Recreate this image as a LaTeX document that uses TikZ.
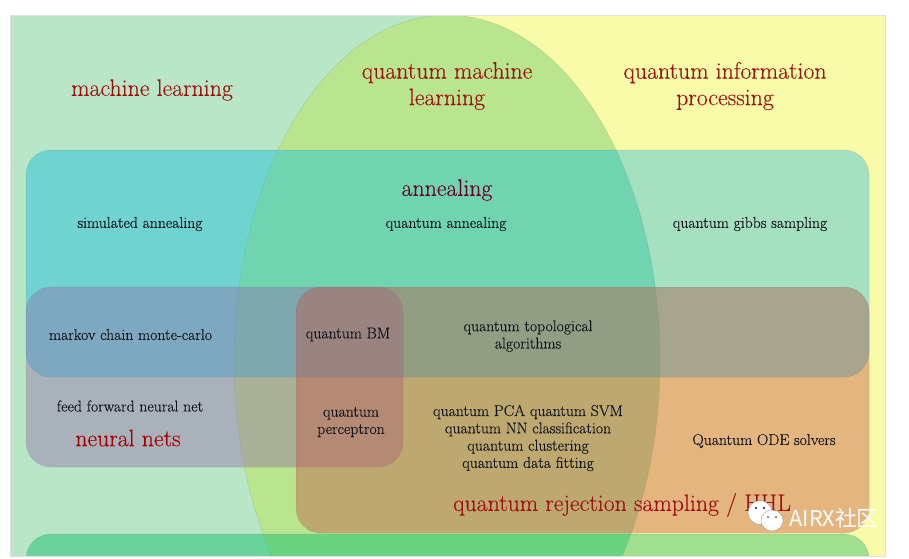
\documentclass[tikz,border=0pt]{standalone}
\usepackage{fontspec}
\setmainfont[FakeBold=0.12]{Latin Modern Roman}
\newfontfamily\cjkmark{Noto Sans CJK SC}
\usetikzlibrary{shapes.geometric}
\definecolor{bgGreen}{HTML}{B8E6C6}
\definecolor{bgYellow}{HTML}{F9FBA9}
\definecolor{qmlGreen}{HTML}{B9E58F}
\definecolor{annealC}{RGB}{24,192,220}
\definecolor{annealR}{RGB}{64,193,220}
\definecolor{neuralC}{RGB}{147,102,170}
\definecolor{rejectC}{RGB}{197,78,65}
\definecolor{bottomC}{RGB}{30,194,115}
\definecolor{bottomR}{RGB}{71,197,117}
\definecolor{headRed}{HTML}{A01010}
\definecolor{bodyInk}{HTML}{101418}
\tikzset{
  x=1pt,y=-1pt,
  field/.style={anchor=north west,inner sep=0pt,outer sep=0pt,rectangle},
  region/.style={anchor=north west,inner sep=0pt,outer sep=0pt,rectangle,rounded corners=25pt,
     draw=black!60,draw opacity=.2,line width=.5pt,fill opacity=#1},
  annealbox/.style={region=.45,minimum width=843pt,minimum height=227pt},
  bottombox/.style={region=.5,minimum width=843pt,minimum height=80pt},
  head/.style={text=headRed,align=center,inner sep=0pt,font=\fontsize{23.8}{26.5}\selectfont},
  body/.style={text=bodyInk,align=center,inner sep=0pt,font=\fontsize{15.7}{17.3}\selectfont},
}
\begin{document}
\begin{tikzpicture}
\useasboundingbox (0,0) rectangle (909,558);
\fill[white] (0,0) rectangle (909,558);
\begin{scope}
\clip (10,15) rectangle (885,556);
\node[field,fill=bgGreen,minimum width=437pt,minimum height=541pt] (ml) at (10,15) {};
\node[field,fill=bgYellow,minimum width=438pt,minimum height=541pt] (qip) at (447,15) {};
% parts of the wide regions that lie over the yellow field
\begin{scope}
\clip (447,100) -- (885,100) -- (885,400) -- (869,400) [rounded corners=25pt] -- (869,287) [sharp corners] -- (447,287) -- cycle;
\node[annealbox,fill=annealR] (annealA) at (26,150) {};
\end{scope}
\begin{scope}
\clip (447,400) -- (447,287) [rounded corners=25pt] -- (869,287) [sharp corners] -- (869,400) -- cycle;
\node[annealbox,fill=annealC] (annealB) at (26,150) {};
\end{scope}
\begin{scope}
\clip (447,500) rectangle (885,556);
\node[bottombox,fill=bottomR] (bottomB) at (26,534) {};
\end{scope}
\node[ellipse,inner sep=0pt,outer sep=0pt,minimum width=426pt,minimum height=690pt,fill=qmlGreen,
      draw=black!60,draw opacity=.2,line width=.5pt] (qml) at (447,360) {};
% parts over the green field and the ellipse
\begin{scope}
\clip (447,705) arc [start angle=90,end angle=-90,x radius=213,y radius=345] -- (10,15) -- (10,705) -- cycle;
\node[annealbox,fill=annealC] (annealC) at (26,150) {};
\node[bottombox,fill=bottomC] (bottomA) at (26,534) {};
\end{scope}
\node[region=.4,fill=neuralC,minimum width=377pt,minimum height=180pt] (neural) at (26,287) {};
\node[region=.4,fill=rejectC,minimum width=573pt,minimum height=246pt] (reject) at (296,287) {};
\end{scope}
\node[field,draw=black!12,line width=.5pt,minimum width=875pt,minimum height=541pt] (frame) at (10,15) {};
\node[head] (t1) at (152,90) {machine learning};
\node[head] (t2) at (447,86) {quantum machine\\learning};
\node[head] (t3) at (725,86) {quantum information\\processing};
\node[head,text=red!50!black!85!blue] (t4) at (447,190) {annealing};
\node[body] (t5) at (140,224) {simulated annealing};
\node[body] (t6) at (446,224) {quantum annealing};
\node[body] (t7) at (750,224) {quantum gibbs sampling};
\node[body] (t8) at (130.5,334.5) {markov chain monte-carlo};
\node[body] (t9) at (348,334.5) {quantum BM};
\node[body] (t10) at (528,336) {quantum topological\\algorithms};
\node[body] (t11) at (130,406) {feed forward neural net};
\node[head,text=red!65!black] (t12) at (128,438) {neural nets};
\node[body] (t13) at (351,422) {quantum\\perceptron};
\node[body] (t14) at (528,438) {quantum PCA quantum SVM\\quantum NN classification\\quantum clustering\\quantum data fitting};
\node[body] (t15) at (764,441) {Quantum ODE solvers};
\node[head] (t16) at (622,505) {quantum rejection sampling / HHL};
% watermark
\fill[white,draw=black!45,line width=.3pt] (760,512.5) ellipse [x radius=12,y radius=12];
\fill[white,draw=black!45,line width=.3pt] (772,520.5) ellipse [x radius=11,y radius=10.5];
\fill[black!70] (756,508) circle (1.3) (764,508) circle (1.3) (768,517) circle (1) (776,517) circle (1);
\node[text=white,inner sep=0pt,font=\cjkmark\fontsize{21.7}{24}\selectfont] (mark) at (834,518) {AIRX社区};
\end{tikzpicture}
\end{document}
